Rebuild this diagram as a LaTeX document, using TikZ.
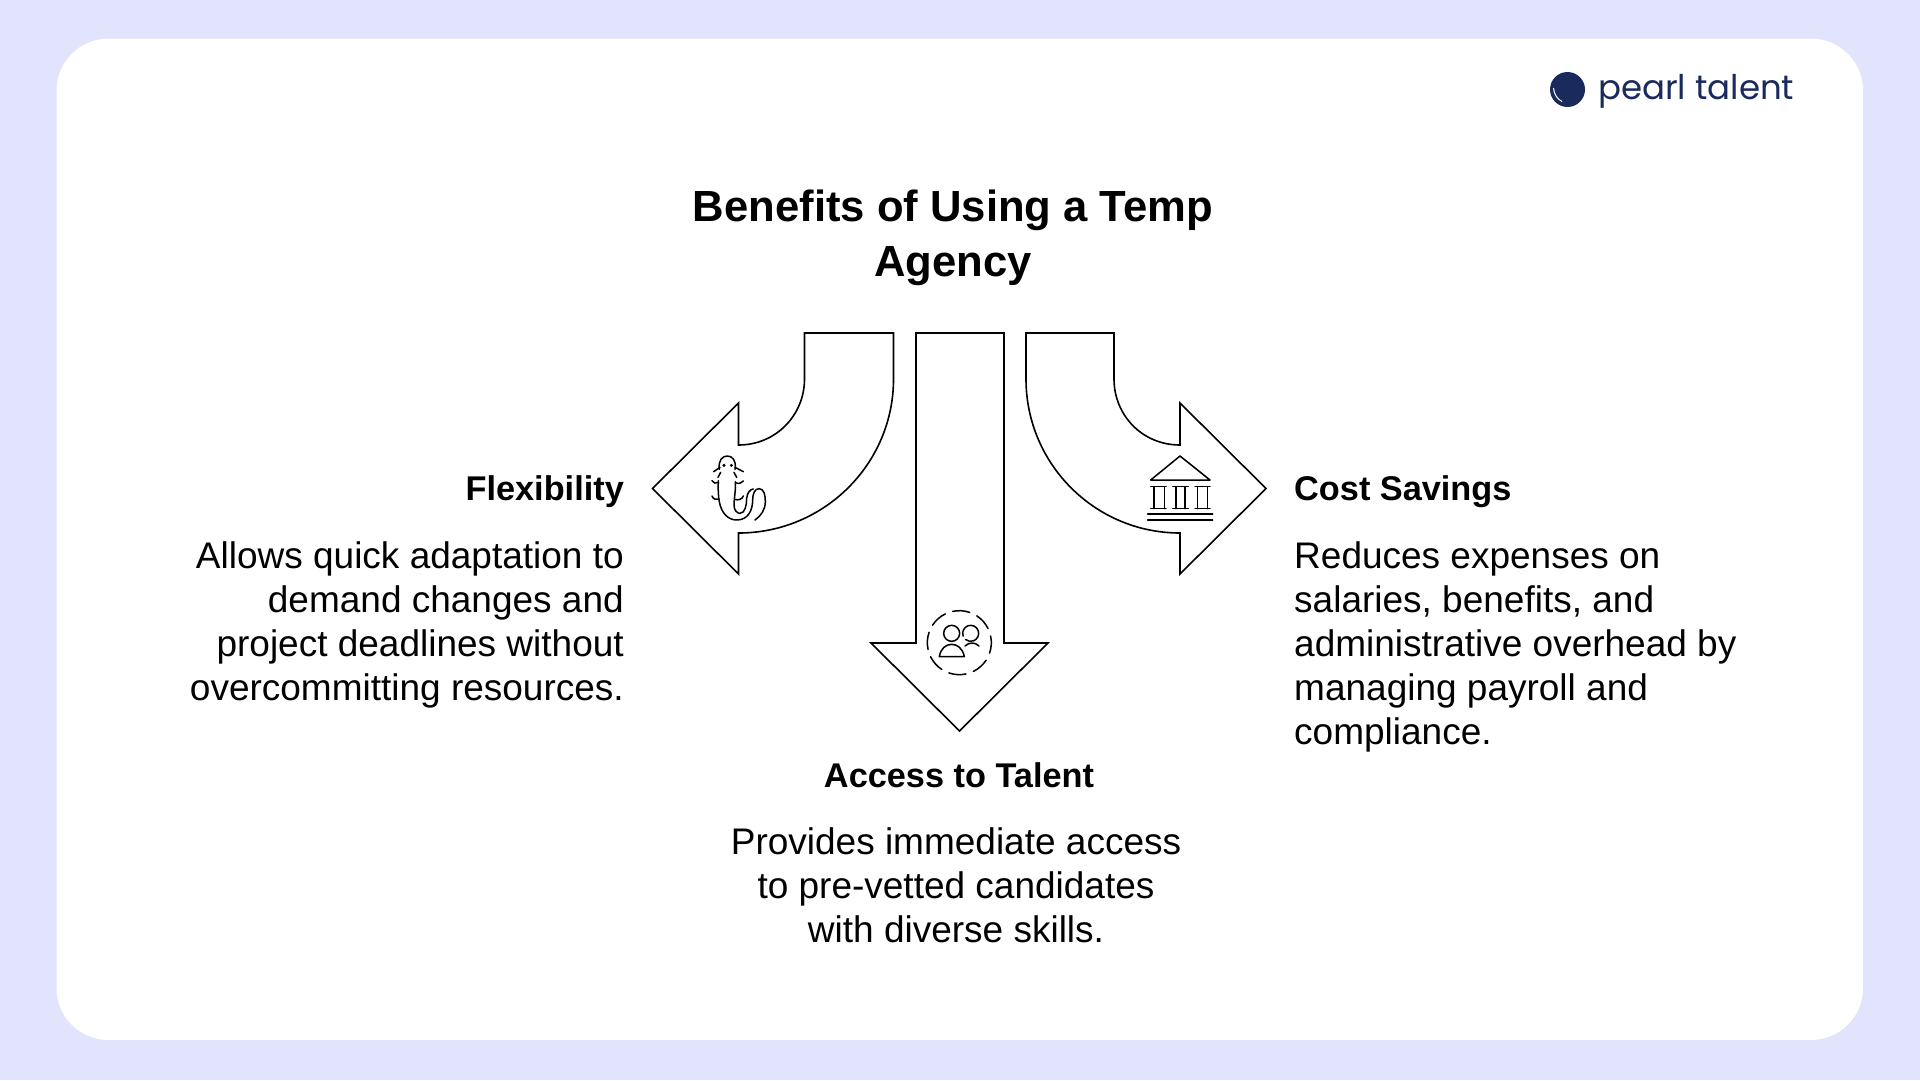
\documentclass[tikz,border=0pt]{standalone}
\usepackage{fontspec}
\setmainfont{Liberation Sans}
\newfontfamily\logofont{Poppins}
\definecolor{bgc}{HTML}{E2E3FD}
\definecolor{navy}{HTML}{1B2A5C}
\tikzset{
  shapeline/.style={draw=black,line width=1.6pt,line join=miter,fill=white},
  iconline/.style={draw=black,line width=1.5pt,line cap=round,line join=round},
  headtxt/.style={inner sep=0pt,font=\fontsize{34.3}{40}\selectfont\bfseries},
  bodytxt/.style={inner sep=0pt,font=\fontsize{37}{44}\selectfont},
}
\begin{document}
\begin{tikzpicture}[x=1pt,y=-1pt]
\useasboundingbox (0,0) rectangle (1920,1080);
\fill[bgc] (0,0) rectangle (1920,1080);
\fill[white,rounded corners=52pt] (56.5,38.5) rectangle (1863,1040);
% logo
\fill[navy] (1567.5,89.5) circle (17.5);
\draw[white,line width=1pt] (1553.5,88) .. controls (1554,94) and (1557,99) .. (1562,101.5);
\node[anchor=base west,inner sep=0pt,text=navy,font=\logofont\fontsize{34}{40}\selectfont] (logo) at (1598,99) {pearl talent};
% title
\node[inner sep=0pt,align=center,font=\fontsize{43.6}{55}\selectfont\bfseries,anchor=center] (title) at (953,238) {Benefits of Using a Temp\\Agency};
% arrows
\draw[shapeline] (804.5,333) -- (804.5,379) .. controls (804.5,415) and (776,445) .. (738.5,445) -- (738.5,403) -- (652.5,488.5) -- (738.5,574) -- (738.5,533) .. controls (824,533) and (893.5,464) .. (893.5,379) -- (893.5,333) -- cycle;
\draw[shapeline] (916,333) -- (916,643) -- (871,643) -- (959.5,731) -- (1048,643) -- (1004,643) -- (1004,333) -- cycle;
\draw[shapeline] (1114,333) -- (1114,379) .. controls (1114,415) and (1142,445) .. (1180,445) -- (1180,403) -- (1266,488.5) -- (1180,574) -- (1180,533) .. controls (1095,533) and (1026,464) .. (1026,379) -- (1026,333) -- cycle;
% salamander icon
\begin{scope}[shift={(690,440)},x=0.3333pt,y=-0.3333pt]
\begin{scope}[iconline]
\draw (88,88) .. controls (84,60) and (98,48) .. (112,48) .. controls (126,48) and (140,60) .. (135,88);
\draw (71,95) -- (90,82); \draw (160,95) -- (135,82);
\draw (92,97) -- (84,112); \draw (132,97) -- (140,112);
\draw (85,122) .. controls (84,150) and (85,170) .. (88,185) .. controls (94,220) and (115,240) .. (140,240) .. controls (175,240) and (188,210) .. (188,180) .. controls (188,160) and (195,146) .. (207,146) .. controls (222,146) and (226,165) .. (226,185) .. controls (226,210) and (212,228) .. (195,240);
\draw (136,125) .. controls (138,150) and (132,175) .. (132,195) .. controls (132,212) and (142,220) .. (150,220) .. controls (165,220) and (170,195) .. (170,175) .. controls (172,158) and (180,148) .. (190,147);
\draw (66,122) .. controls (70,130) and (78,132) .. (85,127);
\draw (66,168) .. controls (70,178) and (78,180) .. (86,177);
\draw (160,123) .. controls (156,130) and (146,132) .. (136,128);
\draw (160,168) .. controls (156,178) and (146,182) .. (134,178);
\end{scope}
\fill (102,76) circle (5); \fill (124,76) circle (5);
\end{scope}
% bank icon
\begin{scope}[shift={(1130,440)},x=0.3333pt,y=-0.3333pt,iconline]
\draw (62,120) -- (150,48) -- (240,120) -- cycle;
\draw (62,140) -- (108,140); \draw (62,206) -- (108,206); \draw (72,140) -- (72,206); \draw (103,140) -- (103,206);
\draw (128,140) -- (175,140); \draw (128,206) -- (175,206); \draw (138,140) -- (138,206); \draw (165,140) -- (165,206);
\draw (195,140) -- (240,140); \draw (195,206) -- (240,206); \draw (203,140) -- (203,206); \draw (233,140) -- (233,206);
\draw (53,222) -- (248,222); \draw (53,240) -- (248,240);
\end{scope}
% people icon
\begin{scope}[shift={(910,600)},x=0.3333pt,y=-0.3333pt,iconline]
\foreach \a in {-12,33,78,123,168,213,258,303}{
  \draw ([shift={(\a:96)}]148,128) arc[start angle=\a,end angle=\a+31,radius=96];
}
\draw (125,100) circle (24);
\draw ([shift={(160:24)}]182,100) arc[start angle=160,end angle=490,radius=24];
\draw (88,170) .. controls (92,145) and (108,133) .. (125,133) .. controls (142,133) and (158,145) .. (163,170) -- cycle;
\draw (165,138) .. controls (178,126) and (195,126) .. (207,138);
\end{scope}
% left
\node[headtxt,anchor=base east] (h1) at (624,500) {Flexibility};
\node[bodytxt,align=right,anchor=north east] (b1) at (624,541) {Allows quick adaptation to\\demand changes and\\project deadlines without\\overcommitting resources.};
% centre
\node[headtxt,anchor=base] (h2) at (959,787.5) {Access to Talent};
\node[bodytxt,align=center,anchor=north] (b2) at (956,827) {Provides immediate access\\to pre-vetted candidates\\with diverse skills.};
% right
\node[headtxt,anchor=base west] (h3) at (1294,500) {Cost Savings};
\node[bodytxt,align=left,anchor=north west] (b3) at (1294,541) {Reduces expenses on\\salaries, benefits, and\\administrative overhead by\\managing payroll and\\compliance.};
\end{tikzpicture}
\end{document}
